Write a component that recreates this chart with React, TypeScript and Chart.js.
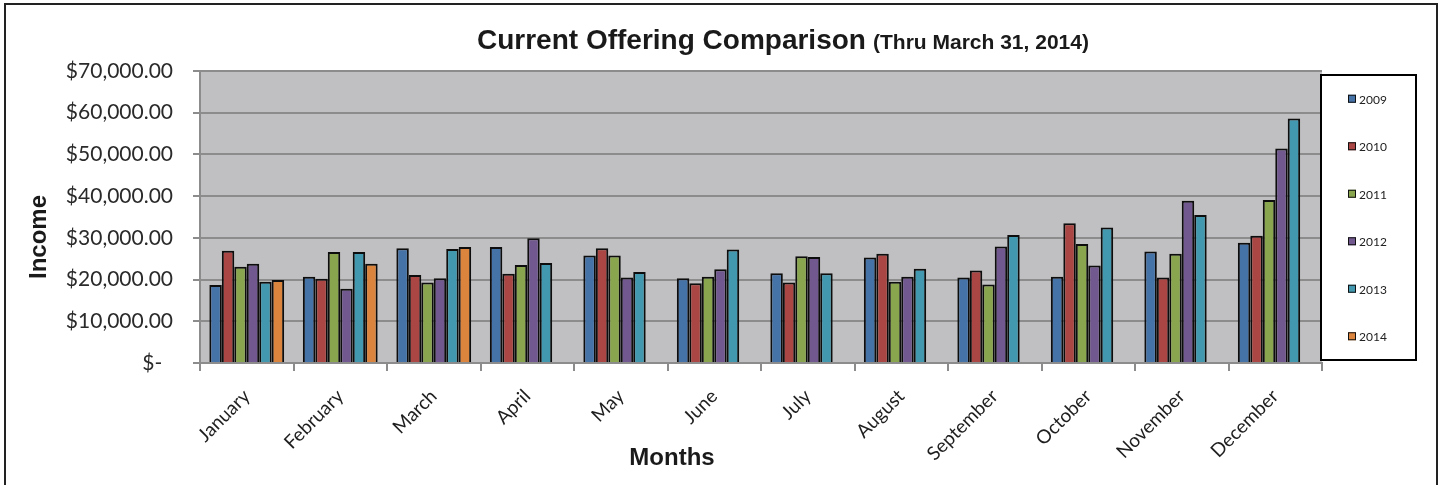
import React, { useEffect, useRef } from "react";
import { Chart, registerables } from "chart.js";

Chart.register(...registerables);

const months = ["January", "February", "March", "April", "May", "June", "July", "August", "September", "October", "November", "December"];
const years = ["2009", "2010", "2011", "2012", "2013", "2014"];
const colors = ["#4572A7", "#AA4643", "#89A54E", "#71588F", "#4198AF", "#DB843D"];

const y2009 = [18700, 20700, 27500, 27800, 25800, 20300, 21500, 25300, 20500, 20700, 26700, 28800];
const y2010 = [26900, 20200, 21100, 21400, 27500, 19100, 19300, 26200, 22200, 33500, 20500, 30500];
const y2011 = [23100, 26600, 19300, 23500, 25800, 20700, 25600, 19500, 18800, 28500, 26200, 39100];
const y2012 = [23800, 17800, 20300, 29900, 20500, 22500, 25400, 20700, 27900, 23400, 38900, 51400];
const y2013 = [19500, 26600, 27300, 24000, 21800, 27200, 21500, 22600, 30700, 32500, 35500, 58600];
const y2014 = [19900, 23800, 27800, null, null, null, null, null, null, null, null, null];

const seriesValues = [y2009, y2010, y2011, y2012, y2013, y2014];

const titleMain = "Current Offering Comparison";
const titleSub = "(Thru March 31, 2014)";
const yTitle = "Income";
const xTitle = "Months";

const ARIAL = '"Liberation Sans", Arial, sans-serif';
const CALIBRI = 'Lato, "Open Sans", sans-serif';

const decorPlugin = {
  id: "decor",
  beforeDraw(chart: any) {
    const { ctx, chartArea } = chart;
    ctx.save();
    ctx.fillStyle = "#ffffff";
    ctx.fillRect(0, 0, chart.width, chart.height);
    ctx.fillStyle = "#C0BFC1";
    ctx.fillRect(chartArea.left, chartArea.top, chartArea.right - chartArea.left, chartArea.bottom - chartArea.top);
    ctx.strokeStyle = "#222";
    ctx.lineWidth = 2;
    ctx.strokeRect(5, 4, 1432, 520);
    ctx.restore();
  },
  afterDraw(chart: any) {
    const { ctx } = chart;
    ctx.save();
    // Title
    ctx.fillStyle = "#1a1a1a";
    ctx.textBaseline = "alphabetic";
    ctx.textAlign = "left";
    ctx.font = `bold 28px ${ARIAL}`;
    ctx.fillText(titleMain, 477, 49);
    ctx.font = `bold 21px ${ARIAL}`;
    ctx.fillText(titleSub, 873, 49);
    // Axis titles
    ctx.font = `bold 24px ${ARIAL}`;
    ctx.textAlign = "center";
    ctx.textBaseline = "middle";
    ctx.fillText(xTitle, 672, 458);
    ctx.save();
    ctx.translate(39, 237);
    ctx.rotate(-Math.PI / 2);
    ctx.fillText(yTitle, 0, 0);
    ctx.restore();
    // Legend
    const lx = 1321, ly = 75, lw = 95, lh = 285;
    ctx.fillStyle = "#ffffff";
    ctx.fillRect(lx, ly, lw, lh);
    ctx.strokeStyle = "#000";
    ctx.lineWidth = 2;
    ctx.strokeRect(lx, ly, lw, lh);
    const ds = chart.data.datasets;
    const step = lh / ds.length;
    ctx.font = `12px ${CALIBRI}`;
    ctx.textAlign = "left";
    ctx.textBaseline = "middle";
    ds.forEach((d: any, i: number) => {
      const cy = ly + step * (i + 0.5);
      ctx.fillStyle = d.backgroundColor;
      ctx.fillRect(1348, cy - 4, 8, 8);
      ctx.strokeStyle = "#111";
      ctx.lineWidth = 1;
      ctx.strokeRect(1348.5, cy - 3.5, 7, 7);
      ctx.fillStyle = "#222";
      ctx.fillText(d.label, 1359, cy + 1);
    });
    ctx.restore();
  },
};

export default function App() {
  const ref = useRef<HTMLCanvasElement>(null);
  useEffect(() => {
    if (!ref.current) return;
    const chart = new Chart(ref.current, {
      type: "bar",
      data: {
        labels: months,
        datasets: years.map((y, i) => ({
          label: y,
          data: seriesValues[i],
          backgroundColor: colors[i],
          borderColor: "#0d0d0d",
          borderWidth: 2,
          borderSkipped: "start",
          categoryPercentage: 0.8,
          barPercentage: 1.0,
        })),
      },
      options: {
        responsive: false,
        animation: false,
        layout: { padding: { top: 71, right: 118, left: 0, bottom: 0 } },
        plugins: {
          legend: { display: false },
          title: { display: false },
          tooltip: { enabled: false },
        },
        scales: {
          x: {
            grid: {
              drawOnChartArea: false,
              drawTicks: true,
              tickLength: 8,
              color: "#8C8C8C",
              lineWidth: 2,
              offset: true,
            },
            border: { color: "#8C8C8C", width: 2 },
            ticks: {
              autoSkip: false,
              minRotation: 45,
              maxRotation: 45,
              padding: 14,
              color: "#1e1e1e",
              font: { family: CALIBRI, size: 19 },
            },
            afterFit(scale: any) {
              scale.height = 122;
            },
          },
          y: {
            min: 0,
            max: 70000,
            grid: {
              color: "#8C8C8C",
              lineWidth: 2,
              tickLength: 7,
            },
            border: { color: "#8C8C8C", width: 2 },
            ticks: {
              stepSize: 10000,
              padding: 20,
              color: "#2a2a2a",
              font: { family: CALIBRI, size: 21 },
              callback: (v: any) =>
                Number(v) === 0
                  ? "$-  "
                  : "$" + Number(v).toLocaleString("en-US", { minimumFractionDigits: 2, maximumFractionDigits: 2 }),
            },
            afterFit(scale: any) {
              scale.width = 200;
            },
          },
        },
      },
      plugins: [decorPlugin],
    });
    return () => chart.destroy();
  }, []);
  return (
    <div style={{ position: "fixed", left: 0, top: 0, width: 1440, height: 485, background: "#fff" }}>
      <canvas ref={ref} width={1440} height={485} style={{ display: "block" }} />
    </div>
  );
}
